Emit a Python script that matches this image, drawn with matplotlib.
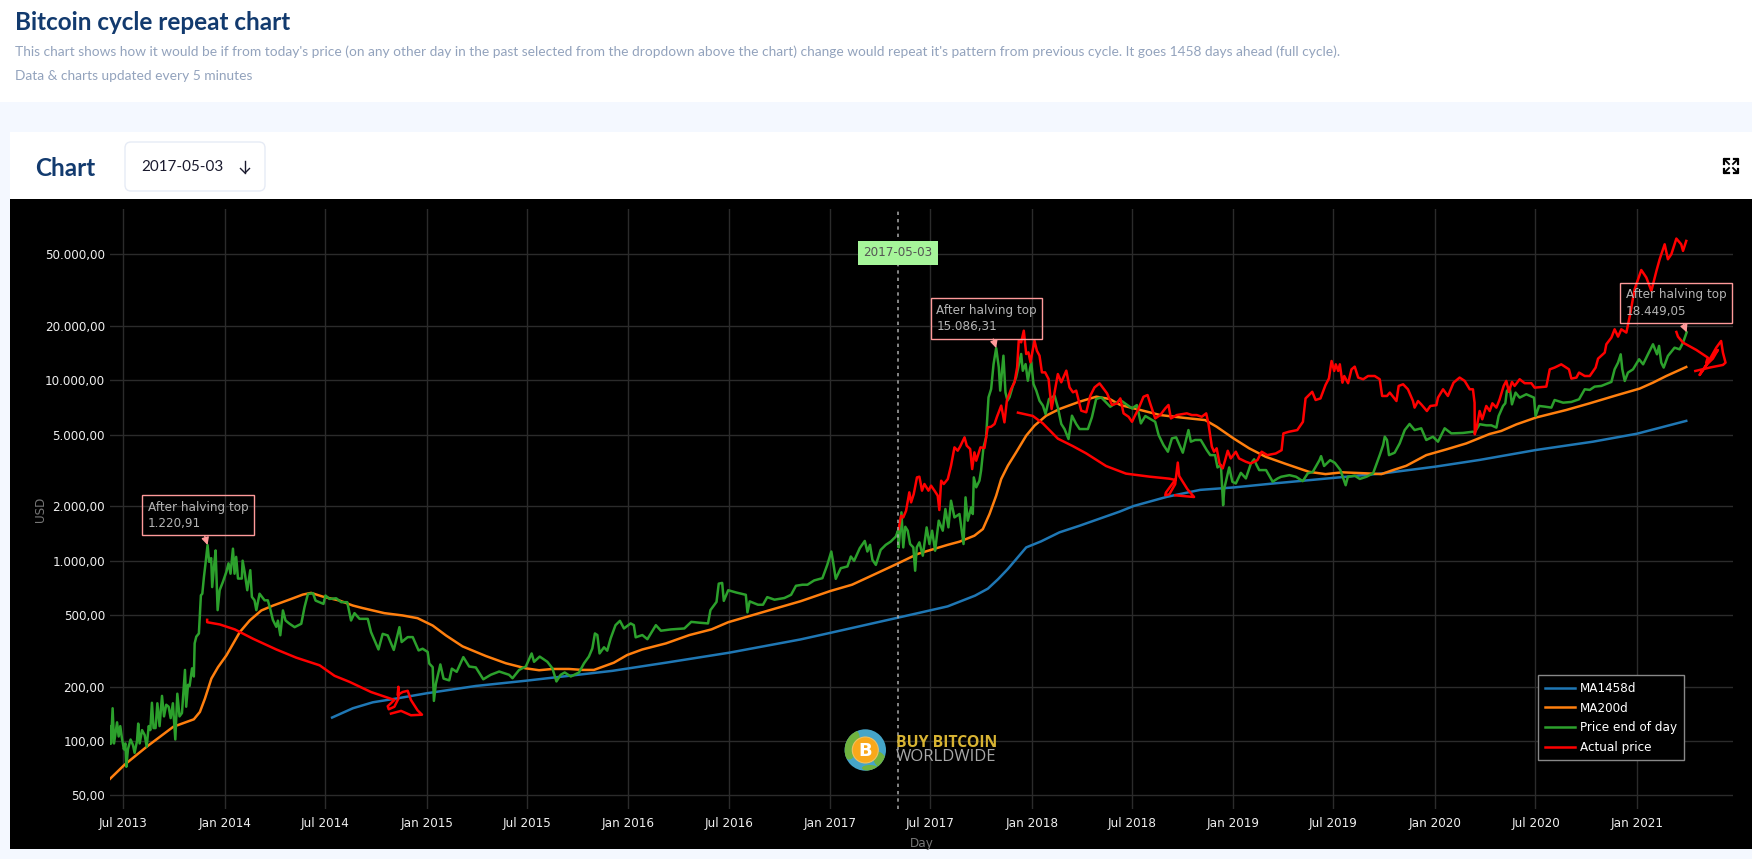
import datetime as dt

import matplotlib
matplotlib.use("Agg")
import matplotlib.pyplot as plt
import matplotlib.dates as mdates
from matplotlib.patches import Circle, Ellipse, FancyBboxPatch, Rectangle
from matplotlib.ticker import NullLocator

# series: x as decimal years, y in USD
ma1458_years = [2014.531, 2014.634, 2014.733, 2014.848, 2015.0, 2015.244, 2015.492, 2015.921, 2016.187,
                2016.5, 2016.853, 2017.0, 2017.328, 2017.582, 2017.718, 2017.782, 2017.833, 2017.881,
                2017.972, 2018.046, 2018.137, 2018.237, 2018.34, 2018.435, 2018.505, 2018.67, 2018.835,
                2019.005, 2019.198, 2019.5, 2019.743, 2020.0, 2020.221, 2020.5, 2020.782, 2021.0, 2021.244]
ma1458_prices = [135, 152, 164, 172, 184, 202, 216, 245, 272,
                 309, 366, 398, 481, 558, 640, 700, 791, 900,
                 1185, 1280, 1436, 1563, 1716, 1870, 2010, 2260, 2470,
                 2550, 2680, 2880, 3050, 3320, 3620, 4110, 4570, 5060, 5960]

ma200_years = [2013.429, 2013.5, 2013.611, 2013.743, 2013.845, 2013.875, 2013.9, 2013.932, 2013.965,
               2014.007, 2014.073, 2014.122, 2014.18, 2014.238, 2014.32, 2014.386, 2014.427, 2014.485,
               2014.568, 2014.634, 2014.683, 2014.79, 2014.881, 2014.955, 2015.03, 2015.096, 2015.178,
               2015.294, 2015.393, 2015.492, 2015.558, 2015.624, 2015.706, 2015.772, 2015.83, 2015.929,
               2015.995, 2016.07, 2016.187, 2016.303, 2016.412, 2016.495, 2016.67, 2016.853, 2017.0,
               2017.108, 2017.222, 2017.328, 2017.434, 2017.582, 2017.641, 2017.715, 2017.757, 2017.79,
               2017.823, 2017.848, 2017.881, 2017.922, 2017.972, 2018.013, 2018.071, 2018.137, 2018.237,
               2018.32, 2018.386, 2018.439, 2018.538, 2018.637, 2018.752, 2018.86, 2018.917, 2019.0,
               2019.078, 2019.16, 2019.26, 2019.375, 2019.457, 2019.54, 2019.66, 2019.734, 2019.792,
               2019.858, 2019.957, 2020.056, 2020.155, 2020.27, 2020.328, 2020.403, 2020.5, 2020.65,
               2020.766, 2020.898, 2021.013, 2021.079, 2021.145, 2021.244]
ma200_prices = [61.7, 73.7, 93, 120, 132, 145, 172, 222, 257,
                299, 402, 466, 530, 564, 609, 649, 663, 632,
                601, 564, 546, 512, 497, 480, 437, 385, 335,
                296, 270, 253, 247, 251, 251, 248, 248, 272,
                300, 322, 348, 387, 416, 456, 520, 596, 679,
                736, 843, 957, 1091, 1224, 1275, 1376, 1498, 1815,
                2293, 2838, 3365, 3987, 4935, 5605, 6368, 6935, 7617,
                8117, 7880, 7300, 6850, 6420, 6200, 6020, 5530, 4770,
                4200, 3770, 3440, 3110, 3020, 3090, 3050, 3020, 3180,
                3360, 3850, 4140, 4470, 5040, 5240, 5700, 6220, 6850,
                7460, 8260, 9000, 9710, 10570, 11860]

price_years = [2013.429, 2013.431, 2013.434, 2013.442, 2013.449, 2013.455, 2013.464, 2013.472, 2013.480,
               2013.488, 2013.498, 2013.505, 2013.510, 2013.518, 2013.531, 2013.543, 2013.551, 2013.563,
               2013.569, 2013.576, 2013.588, 2013.601, 2013.611, 2013.621, 2013.629, 2013.637, 2013.645,
               2013.655, 2013.664, 2013.675, 2013.687, 2013.697, 2013.708, 2013.720, 2013.730, 2013.741,
               2013.753, 2013.763, 2013.774, 2013.786, 2013.801, 2013.807, 2013.816, 2013.824, 2013.836,
               2013.845, 2013.849, 2013.857, 2013.870, 2013.880, 2013.887, 2013.895, 2013.903, 2013.913,
               2013.921, 2013.931, 2013.936, 2013.945, 2013.953, 2013.963, 2013.973, 2013.989, 2014.006,
               2014.017, 2014.027, 2014.039, 2014.047, 2014.055, 2014.064, 2014.083, 2014.087, 2014.097,
               2014.110, 2014.125, 2014.133, 2014.146, 2014.155, 2014.171, 2014.196, 2014.212, 2014.224,
               2014.237, 2014.254, 2014.262, 2014.274, 2014.287, 2014.300, 2014.320, 2014.345, 2014.378,
               2014.394, 2014.411, 2014.436, 2014.449, 2014.488, 2014.498, 2014.518, 2014.551, 2014.576,
               2014.606, 2014.625, 2014.642, 2014.667, 2014.708, 2014.724, 2014.761, 2014.782, 2014.807,
               2014.837, 2014.865, 2014.876, 2014.906, 2014.931, 2014.960, 2014.980, 2015.005, 2015.013,
               2015.030, 2015.036, 2015.046, 2015.068, 2015.084, 2015.112, 2015.125, 2015.149, 2015.182,
               2015.211, 2015.244, 2015.281, 2015.318, 2015.360, 2015.409, 2015.426, 2015.459, 2015.492,
               2015.521, 2015.533, 2015.561, 2015.599, 2015.624, 2015.644, 2015.665, 2015.685, 2015.715,
               2015.756, 2015.781, 2015.805, 2015.822, 2015.835, 2015.847, 2015.858, 2015.880, 2015.896,
               2015.913, 2015.937, 2015.959, 2015.979, 2016.012, 2016.028, 2016.037, 2016.070, 2016.095,
               2016.137, 2016.162, 2016.212, 2016.278, 2016.312, 2016.353, 2016.395, 2016.407, 2016.437,
               2016.448, 2016.465, 2016.473, 2016.495, 2016.535, 2016.582, 2016.590, 2016.601, 2016.642,
               2016.667, 2016.688, 2016.724, 2016.773, 2016.806, 2016.830, 2016.863, 2016.887, 2016.920,
               2016.961, 2016.985, 2017.005, 2017.015, 2017.027, 2017.052, 2017.085, 2017.102, 2017.118,
               2017.146, 2017.171, 2017.184, 2017.197, 2017.209, 2017.226, 2017.250, 2017.275, 2017.300,
               2017.325, 2017.336, 2017.339, 2017.353, 2017.362, 2017.372, 2017.384, 2017.396, 2017.412,
               2017.421, 2017.429, 2017.442, 2017.459, 2017.478, 2017.492, 2017.505, 2017.520, 2017.538,
               2017.558, 2017.571, 2017.586, 2017.599, 2017.616, 2017.641, 2017.661, 2017.671, 2017.682,
               2017.699, 2017.707, 2017.712, 2017.724, 2017.740, 2017.748, 2017.760, 2017.773, 2017.785,
               2017.798, 2017.810, 2017.823, 2017.836, 2017.843, 2017.859, 2017.869, 2017.879, 2017.889,
               2017.906, 2017.922, 2017.947, 2017.955, 2017.969, 2017.980, 2017.997, 2018.008, 2018.022,
               2018.038, 2018.055, 2018.068, 2018.085, 2018.113, 2018.129, 2018.146, 2018.162, 2018.182,
               2018.199, 2018.220, 2018.237, 2018.278, 2018.298, 2018.319, 2018.344, 2018.389, 2018.439,
               2018.497, 2018.521, 2018.541, 2018.563, 2018.612, 2018.629, 2018.653, 2018.675, 2018.695,
               2018.716, 2018.749, 2018.777, 2018.789, 2018.810, 2018.838, 2018.868, 2018.885, 2018.909,
               2018.921, 2018.938, 2018.949, 2018.955, 2018.979, 2018.995, 2019.012, 2019.037, 2019.062,
               2019.087, 2019.103, 2019.115, 2019.128, 2019.162, 2019.195, 2019.220, 2019.237, 2019.278,
               2019.311, 2019.344, 2019.369, 2019.394, 2019.427, 2019.435, 2019.450, 2019.480, 2019.503,
               2019.531, 2019.557, 2019.568, 2019.602, 2019.627, 2019.660, 2019.693, 2019.726, 2019.743,
               2019.751, 2019.762, 2019.772, 2019.800, 2019.825, 2019.850, 2019.874, 2019.899, 2019.932,
               2019.957, 2019.990, 2020.015, 2020.048, 2020.081, 2020.139, 2020.188, 2020.196, 2020.221,
               2020.254, 2020.279, 2020.304, 2020.315, 2020.337, 2020.348, 2020.356, 2020.370, 2020.381,
               2020.399, 2020.419, 2020.452, 2020.490, 2020.498, 2020.515, 2020.543, 2020.576, 2020.592,
               2020.634, 2020.675, 2020.713, 2020.741, 2020.766, 2020.790, 2020.823, 2020.873, 2020.889,
               2020.906, 2020.919, 2020.927, 2020.939, 2020.955, 2020.980, 2021.010, 2021.030, 2021.054,
               2021.079, 2021.099, 2021.109, 2021.120, 2021.132, 2021.153, 2021.186, 2021.211, 2021.228,
               2021.246]
price_values = [97, 121, 97, 152, 97, 108, 127, 106, 121,
                104, 90, 97, 72, 90, 102, 95, 86, 100,
                125, 97, 115, 108, 93, 121, 115, 163, 118,
                118, 162, 121, 178, 137, 159, 155, 134, 162,
                102, 183, 137, 143, 248, 155, 205, 202, 253,
                228, 348, 379, 395, 643, 656, 811, 967, 1221,
                985, 1033, 714, 923, 1140, 532, 686, 762, 865,
                967, 847, 1166, 847, 1050, 796, 796, 1000, 865,
                686, 886, 630, 603, 532, 656, 603, 603, 540,
                470, 430, 465, 386, 530, 466, 447, 428, 447,
                552, 654, 660, 601, 576, 641, 614, 619, 589,
                589, 466, 512, 476, 476, 402, 322, 393, 385,
                320, 428, 354, 377, 377, 318, 325, 312, 269,
                257, 167, 208, 266, 222, 217, 252, 242, 292,
                259, 256, 220, 233, 243, 233, 223, 248, 259,
                306, 275, 294, 275, 253, 214, 233, 240, 228,
                240, 270, 294, 326, 395, 387, 306, 331, 317,
                371, 439, 464, 421, 449, 439, 376, 387, 367,
                439, 409, 416, 421, 458, 453, 449, 532, 591,
                746, 753, 599, 686, 666, 647, 517, 595, 570,
                570, 628, 608, 621, 647, 726, 736, 736, 777,
                800, 948, 1124, 969, 793, 909, 929, 1055, 998,
                1172, 1287, 1124, 1224, 1011, 948, 1148, 1224, 1277,
                1361, 1467, 1185, 1854, 1185, 1543, 1467, 1237, 1185,
                880, 1185, 1264, 1066, 1530, 1237, 1467, 1136, 1667,
                1467, 1934, 1530, 2151, 1738, 1815, 1237, 2245, 1667,
                1976, 1815, 2897, 2552, 2777, 3155, 4250, 4830, 8050,
                8950, 12300, 15086, 11800, 8770, 13700, 8580, 7710, 8050,
                9340, 10400, 14000, 11300, 12300, 9950, 12600, 9550, 8770,
                7710, 7240, 6510, 7880, 8220, 7080, 5730, 5370, 4730,
                6370, 5730, 5370, 5370, 6240, 7880, 8050, 7140, 7780,
                6990, 7290, 5770, 6340, 5890, 4970, 4380, 4020, 4770,
                4830, 3970, 5300, 4570, 4670, 4670, 4100, 3850, 3850,
                3290, 3390, 2030, 2520, 3290, 2740, 2680, 3070, 2860,
                3460, 3650, 3390, 3180, 3180, 2740, 2860, 2920, 2980,
                2920, 2760, 3050, 3110, 3610, 3800, 3350, 3610, 3490,
                3180, 2620, 2920, 2960, 2840, 2920, 3050, 3850, 4380,
                4870, 4670, 3850, 3970, 4470, 5300, 5730, 5300, 5420,
                4670, 4870, 4570, 5420, 5080, 5110, 5190, 5130, 5710,
                5630, 5630, 5470, 6340, 7210, 7460, 8730, 9110, 7360,
                8550, 8020, 8370, 8020, 6340, 7210, 7150, 7060, 7780,
                7520, 7590, 7850, 8920, 8850, 9230, 9310, 9800, 11510,
                12540, 13940, 11510, 9920, 11040, 11510, 13090, 12270, 13940,
                15850, 13940, 15520, 12540, 11770, 13650, 15170, 14860, 16190,
                18449]

actual_years = [2017.339, 2017.351, 2017.362, 2017.376, 2017.392, 2017.401, 2017.414, 2017.430, 2017.442,
                2017.455, 2017.467, 2017.487, 2017.500, 2017.517, 2017.533, 2017.541, 2017.550, 2017.563,
                2017.583, 2017.599, 2017.616, 2017.632, 2017.644, 2017.666, 2017.677, 2017.694, 2017.704,
                2017.715, 2017.724, 2017.745, 2017.765, 2017.781, 2017.798, 2017.815, 2017.826, 2017.848,
                2017.864, 2017.876, 2017.897, 2017.914, 2017.927, 2017.935, 2017.947, 2017.960, 2017.972,
                2017.983, 2017.993, 2018.013, 2018.025, 2018.038, 2018.050, 2018.066, 2018.083, 2018.098,
                2018.113, 2018.129, 2018.146, 2018.171, 2018.187, 2018.204, 2018.220, 2018.245, 2018.270,
                2018.290, 2018.311, 2018.336, 2018.373, 2018.398, 2018.422, 2018.439, 2018.455, 2018.480,
                2018.497, 2018.513, 2018.530, 2018.554, 2018.574, 2018.587, 2018.612, 2018.637, 2018.662,
                2018.678, 2018.690, 2018.719, 2018.769, 2018.794, 2018.818, 2018.843, 2018.865, 2018.876,
                2018.893, 2018.904, 2018.917, 2018.931, 2018.947, 2018.959, 2018.972, 2018.987, 2019.012,
                2019.028, 2019.061, 2019.086, 2019.119, 2019.140, 2019.168, 2019.210, 2019.239, 2019.248,
                2019.276, 2019.317, 2019.345, 2019.358, 2019.391, 2019.408, 2019.432, 2019.457, 2019.474,
                2019.487, 2019.500, 2019.508, 2019.520, 2019.528, 2019.541, 2019.550, 2019.569, 2019.586,
                2019.602, 2019.619, 2019.644, 2019.668, 2019.701, 2019.726, 2019.738, 2019.762, 2019.776,
                2019.809, 2019.820, 2019.842, 2019.866, 2019.891, 2019.899, 2019.916, 2019.932, 2019.960,
                2019.977, 2020.007, 2020.015, 2020.040, 2020.064, 2020.092, 2020.122, 2020.147, 2020.172,
                2020.188, 2020.196, 2020.197, 2020.208, 2020.221, 2020.234, 2020.254, 2020.271, 2020.284,
                2020.304, 2020.320, 2020.340, 2020.353, 2020.366, 2020.381, 2020.394, 2020.419, 2020.444,
                2020.477, 2020.493, 2020.551, 2020.568, 2020.592, 2020.625, 2020.663, 2020.675, 2020.700,
                2020.713, 2020.741, 2020.766, 2020.795, 2020.807, 2020.840, 2020.848, 2020.873, 2020.889,
                2020.906, 2020.922, 2020.947, 2020.964, 2020.988, 2021.021, 2021.046, 2021.071, 2021.096,
                2021.112, 2021.137, 2021.153, 2021.170, 2021.195, 2021.219, 2021.228, 2021.244]
actual_prices = [1499, 1776, 1738, 1893, 2393, 2106, 2343, 2897, 2923,
                 2445, 2662, 2445, 2606, 2445, 2293, 1910, 2777, 2662,
                 2837, 3365, 4250, 4074, 4290, 4830, 4342, 4160, 3222,
                 3987, 3585, 4250, 4217, 5488, 5534, 5727, 6237, 7240,
                 5848, 7710, 8950, 9750, 11800, 16600, 16250, 18850, 14000,
                 14300, 12590, 16600, 14600, 13700, 11070, 11070, 10170, 6935,
                 8580, 10840, 9750, 11320, 9140, 8580, 8770, 6790, 6650,
                 8220, 9140, 9620, 8470, 7300, 7450, 7940, 6560, 6280,
                 5890, 6420, 6990, 8110, 8290, 7450, 6150, 6420, 6990,
                 7300, 6150, 6420, 6560, 6420, 6420, 6280, 6560, 5770,
                 4290, 4020, 4200, 3460, 3250, 3610, 4070, 3690, 4020,
                 3690, 3540, 3460, 3610, 4020, 3850, 3930, 4100, 5080,
                 5190, 5300, 5890, 7940, 8640, 7780, 7940, 9420, 10250,
                 12800, 11270, 12270, 11270, 12270, 9710, 10570, 9640, 11510,
                 11910, 10360, 10140, 10570, 10570, 10140, 8190, 8190, 8550,
                 7680, 9310, 9510, 8920, 7680, 7060, 7680, 7360, 6760,
                 7210, 7280, 8020, 8920, 8190, 9710, 10360, 9930, 8920,
                 8920, 7520, 5020, 5590, 6760, 6080, 7210, 6760, 7460,
                 7060, 7850, 9310, 9930, 8630, 9800, 9310, 10140, 9640,
                 9640, 9110, 9230, 11510, 11770, 12270, 11510, 10220, 10360,
                 11040, 10570, 10570, 11770, 13190, 14250, 15850, 17260, 19190,
                 17470, 19190, 18400, 22750, 32000, 40900, 37150, 31320, 40400,
                 46900, 56800, 46900, 50000, 61100, 56800, 52200, 59300]

# the three thin red curves with the scribble at their end
curve1_years = [2013.911, 2013.911, 2013.974, 2014.048, 2014.139, 2014.254, 2014.353, 2014.469, 2014.543, 2014.617,
                2014.724, 2014.840, 2014.807, 2014.812, 2014.840, 2014.860, 2014.860, 2014.856, 2014.881, 2014.906,
                2014.922, 2014.955, 2014.977, 2014.922, 2014.873, 2014.823]
curve1_prices = [470, 456, 443, 416, 369, 322, 290, 263, 230, 213,
                 187, 169, 156, 150, 155, 172, 200, 180, 187, 190,
                 169, 148, 140, 139, 147, 142]
curve2_years = [2017.931, 2018.005, 2018.054, 2018.129, 2018.203, 2018.269, 2018.368, 2018.467, 2018.583, 2018.682,
                2018.711, 2018.665, 2018.662, 2018.682, 2018.711, 2018.724, 2018.731, 2018.772, 2018.805, 2018.748,
                2018.711]
curve2_prices = [6620, 6345, 5780, 4750, 4320, 3940, 3350, 3040, 2925, 2850,
                 2805, 2385, 2305, 2335, 2655, 3500, 2950, 2490, 2255, 2285,
                 2305]
curve3_years = [2021.195, 2021.203, 2021.228, 2021.294, 2021.351, 2021.343, 2021.363, 2021.401, 2021.376, 2021.347,
                2021.310, 2021.351, 2021.393, 2021.417, 2021.426, 2021.439, 2021.426, 2021.360, 2021.289]
curve3_prices = [18550, 17470, 16190, 14740, 13370, 12540, 13090, 14740, 13190, 12270,
                 10710, 12540, 15180, 16530, 14250, 12540, 12170, 11770, 11270]

top_years = [2013.913, 2017.823, 2021.246]
top_prices = [1220.91, 15086.31, 18449.05]
top_labels = ['After halving top\n1.220,91', 'After halving top\n15.086,31', 'After halving top\n18.449,05']

y_ticks = [50, 100, 200, 500, 1000, 2000, 5000, 10000, 20000, 50000]
y_tick_labels = ['50,00', '100,00', '200,00', '500,00', '1.000,00', '2.000,00', '5.000,00',
                 '10.000,00', '20.000,00', '50.000,00']

selected_year = 2017.336
selected_label = '2017-05-03'

W, H = 1752, 859
NAVY = '#123a6e'
MUTED = '#93a3bd'


def to_dates(years):
    # decimal year -> datetime
    out = []
    for y in years:
        yr = int(y)
        days = (dt.datetime(yr + 1, 1, 1) - dt.datetime(yr, 1, 1)).days
        out.append(dt.datetime(yr, 1, 1) + dt.timedelta(days=(y - yr) * days))
    return out


fig = plt.figure(figsize=(W / 100, H / 100), dpi=100)

######### page around the chart #############
page = fig.add_axes([0, 0, 1, 1])
page.set_xlim(0, W)
page.set_ylim(H, 0)
page.axis('off')
page.add_patch(Rectangle((0, 0), W, H, fc='#f4f8ff', ec='none'))
page.add_patch(Rectangle((0, 0), W, 102, fc='white', ec='none'))
page.add_patch(Rectangle((10, 132), W, 70, fc='white', ec='none'))
page.add_patch(Rectangle((10, 199), W, 650, fc='black', ec='none'))
page.text(15, 23, 'Bitcoin cycle repeat chart', fontsize=17.5, fontweight='bold', color=NAVY,
          family='Lato', va='center')
page.text(15, 52, "This chart shows how it would be if from today's price (on any other day in the past selected "
                  "from the dropdown above the chart) change would repeat it's pattern from previous cycle. "
                  "It goes 1458 days ahead (full cycle).",
          fontsize=9.93, color=MUTED, family='Lato', va='center')
page.text(15, 76, 'Data & charts updated every 5 minutes', fontsize=9.93, color=MUTED, family='Lato', va='center')
page.text(35, 168, 'Chart', fontsize=17.5, fontweight='bold', color=NAVY, family='Lato', va='center')
page.add_patch(FancyBboxPatch((125, 142), 140, 49, boxstyle='round,pad=0,rounding_size=6',
                              fc='white', ec='#e6ebf5', lw=1))
page.text(141, 167, selected_label, fontsize=10.9, color='#1a1a2e', family='Lato', va='center')
# dropdown arrow
page.plot([245, 245], [161, 173], color='#1a1a2e', lw=1)
page.plot([240.5, 245, 249.5], [168.5, 173, 168.5], color='#1a1a2e', lw=1)
# expand icon
for sx, sy in [(-1, -1), (1, -1), (-1, 1), (1, 1)]:
    cx, cy = 1731 + sx * 7, 166 + sy * 7
    page.plot([1731 + sx * 2, cx], [166 + sy * 2, cy], color='black', lw=1.3)
    page.plot([cx - sx * 4.5, cx, cx], [cy, cy, cy - sy * 4.5], color='black', lw=1.6)
page.set_xlim(0, W)
page.set_ylim(H, 0)

######### chart #############
ax = fig.add_axes([110 / W, 1 - 809 / H, (1733 - 110) / W, 600 / H])
ax.set_facecolor('black')
ax.set_yscale('log')
ax.set_xlim(to_dates([2013.429, 2021.476]))
ax.set_ylim(42, 89130)
ax.xaxis.set_major_locator(mdates.MonthLocator(bymonth=(1, 7)))
ax.xaxis.set_major_formatter(mdates.DateFormatter('%b %Y'))
ax.set_yticks(y_ticks, y_tick_labels)
ax.yaxis.set_minor_locator(NullLocator())
ax.grid(True, color='#2b2b2b', lw=1.0)
ax.set_axisbelow(True)
ax.tick_params(length=0, labelsize=8.64, labelcolor='#eeeeee')
ax.tick_params(axis='x', pad=6)
ax.tick_params(axis='y', pad=3.6)
for s in ax.spines.values():
    s.set_visible(False)
ax.set_xlabel('Day', fontsize=8.64, color='#777777', labelpad=4.5)
ax.set_ylabel('USD', fontsize=8.64, color='#777777', labelpad=-1.5)

LW = 1.8
l1, = ax.plot(to_dates(ma1458_years), ma1458_prices, color='#1f77b4', lw=LW, label='MA1458d')
l2, = ax.plot(to_dates(ma200_years), ma200_prices, color='#ff7f0e', lw=LW, label='MA200d')
l3, = ax.plot(to_dates(price_years), price_values, color='#2ca02c', lw=LW, label='Price end of day')
l4, = ax.plot(to_dates(actual_years), actual_prices, color='#ff0000', lw=LW, label='Actual price')
for cy, cp in [(curve1_years, curve1_prices), (curve2_years, curve2_prices), (curve3_years, curve3_prices)]:
    ax.plot(to_dates(cy), cp, color='#ff0000', lw=LW)

# selected day marker
sel = to_dates([selected_year])[0]
ax.axvline(sel, color='#aaaaaa', lw=1.1, dashes=(2.2, 2.6))
ax.text(sel, 51000, selected_label, fontsize=8.64, color='#555555', ha='center', va='center',
        bbox=dict(fc='#a6f59a', ec='none', pad=4))

# halving tops: box offset in pixels from the tip of the arrow
box_offsets = [(-60, 15), (-60, 15), (-61, 14.5)]
for yr, val, label, (ox, oy) in zip(top_years, top_prices, top_labels, box_offsets):
    ax.annotate(label, xy=(to_dates([yr])[0], val), xytext=(ox, oy), textcoords='offset pixels',
                fontsize=8.64, color='#b4b4b4', va='bottom', ha='left', linespacing=1.35,
                bbox=dict(fc='none', ec='#ff9a9a', lw=1.0, boxstyle='square,pad=0.45'),
                arrowprops=dict(arrowstyle='-|>', color='#ff9a9a', lw=1, shrinkA=0, shrinkB=0,
                                mutation_scale=11, relpos=(0.55, 0)))

leg = ax.legend(handles=[l1, l2, l3, l4], loc='lower left', bbox_to_anchor=(0.880, 0.081), borderaxespad=0,
                fontsize=8.64, labelcolor='white', facecolor='black', edgecolor='#888888', framealpha=1,
                fancybox=False, handlelength=2.5, handletextpad=0.45, labelspacing=0.55, borderpad=0.55)
leg.get_frame().set_linewidth(1.0)

######### logo #############
over = fig.add_axes([0, 0, 1, 1], facecolor='none')
over.set_xlim(0, W)
over.set_ylim(H, 0)
over.axis('off')
globe = Circle((865.3, 750), 20.7, fc='#45a5c9', ec='none')
over.add_patch(globe)
for patch in [Ellipse((852, 745), 14, 30, angle=15, fc='#6fb33f', ec='none'),
              Ellipse((880, 760), 12, 18, angle=-30, fc='#6fb33f', ec='none'),
              Ellipse((870, 768), 16, 6, fc='#6fb33f', ec='none')]:
    over.add_patch(patch)
    patch.set_clip_path(globe)
over.add_patch(Circle((865.3, 750), 13, fc='#f9a81a', ec='#f0c060', lw=0.8))
over.text(865.3, 750.5, 'B', fontsize=13, fontweight='bold', color='white', ha='center', va='center')
over.text(896, 743, 'BUY BITCOIN', fontsize=11.3, fontweight='bold', color='#d8b433', family='Open Sans',
          va='center')
over.text(896, 757, 'WORLDWIDE', fontsize=12, color='#a8a8a8', family='Open Sans', va='center')

fig.savefig('out.png', dpi=100)
